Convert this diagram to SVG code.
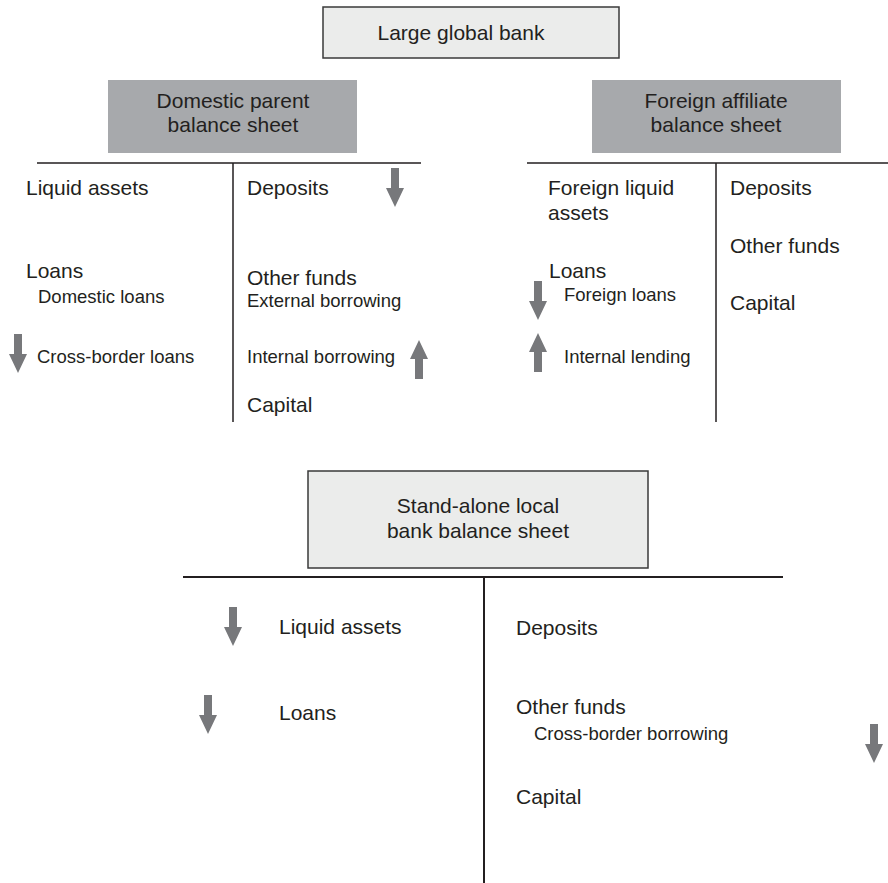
<svg xmlns="http://www.w3.org/2000/svg" xmlns:xlink="http://www.w3.org/1999/xlink" width="888" height="883" viewBox="0 0 888 883">
<style>
  text { font-family: "Liberation Sans", Arial, sans-serif; fill: #231f20; }
  .big { font-size: 21px; }
  .small { font-size: 18.5px; }
  .mid { text-anchor: middle; }
  .light { fill: #ebeceb; stroke: #3a3a3a; stroke-width: 1.5; }
  .dark { fill: #a7a9ac; }
  .rule { stroke: #231f20; stroke-width: 1.5; fill: none; }
  .rule2 { stroke: #231f20; stroke-width: 2; fill: none; }
  .arr { fill: #77787b; }
</style>
<defs>
  <path id="down" class="arr" d="M-4,0 H4 V20 H9 L0,39 L-9,20 H-4 Z"/>
</defs>
<rect width="888" height="883" fill="#ffffff"/>

<g id="large-global-bank">
  <rect class="light" x="323" y="7" width="296" height="51"/>
  <text class="big mid" x="461" y="40">Large global bank</text>
</g>

<g id="domestic-parent">
  <rect class="dark" x="108" y="80" width="249" height="73"/>
  <text class="big mid" x="233" y="108">Domestic parent</text>
  <text class="big mid" x="233" y="132">balance sheet</text>
  <text class="big" x="26" y="195">Liquid assets</text>
  <text class="big" x="26" y="278">Loans</text>
  <text class="small" x="38" y="303">Domestic loans</text>
  <text class="small" x="37" y="363">Cross-border loans</text>
  <text class="big" x="247" y="195">Deposits</text>
  <text class="big" x="247" y="285">Other funds</text>
  <text class="small" x="247" y="307">External borrowing</text>
  <text class="small" x="247" y="363">Internal borrowing</text>
  <text class="big" x="247" y="412">Capital</text>
  <use xlink:href="#down" transform="translate(395,168)"/>
  <use xlink:href="#down" transform="translate(18,334)"/>
  <use xlink:href="#down" transform="translate(419,379) rotate(180)"/>
</g>

<g id="foreign-affiliate">
  <rect class="dark" x="592" y="80" width="249" height="73"/>
  <text class="big mid" x="716" y="108">Foreign affiliate</text>
  <text class="big mid" x="716" y="132">balance sheet</text>
  <text class="big" x="548" y="195">Foreign liquid</text>
  <text class="big" x="548" y="220">assets</text>
  <text class="big" x="549" y="278">Loans</text>
  <text class="small" x="564" y="301">Foreign loans</text>
  <text class="small" x="564" y="363">Internal lending</text>
  <text class="big" x="730" y="195">Deposits</text>
  <text class="big" x="730" y="253">Other funds</text>
  <text class="big" x="730" y="310">Capital</text>
  <use xlink:href="#down" transform="translate(538,281)"/>
  <use xlink:href="#down" transform="translate(538,372) rotate(180)"/>
</g>

<g id="stand-alone-local-bank">
  <rect class="light" x="308" y="471" width="340" height="97"/>
  <text class="big mid" x="478" y="513">Stand-alone local</text>
  <text class="big mid" x="478" y="538">bank balance sheet</text>
  <text class="big" x="279" y="634">Liquid assets</text>
  <text class="big" x="279" y="720">Loans</text>
  <text class="big" x="516" y="635">Deposits</text>
  <text class="big" x="516" y="714">Other funds</text>
  <text class="small" x="534" y="740">Cross-border borrowing</text>
  <text class="big" x="516" y="804">Capital</text>
  <use xlink:href="#down" transform="translate(233,607)"/>
  <use xlink:href="#down" transform="translate(208,695)"/>
  <use xlink:href="#down" transform="translate(874,724)"/>
</g>

<g id="connectors">
  <path class="rule" d="M37,163 H421 M233,163 V422"/>
  <path class="rule" d="M527,163 H888 M716,163 V422"/>
  <path class="rule2" d="M183,577 H783 M484,577 V883"/>
</g>
</svg>
